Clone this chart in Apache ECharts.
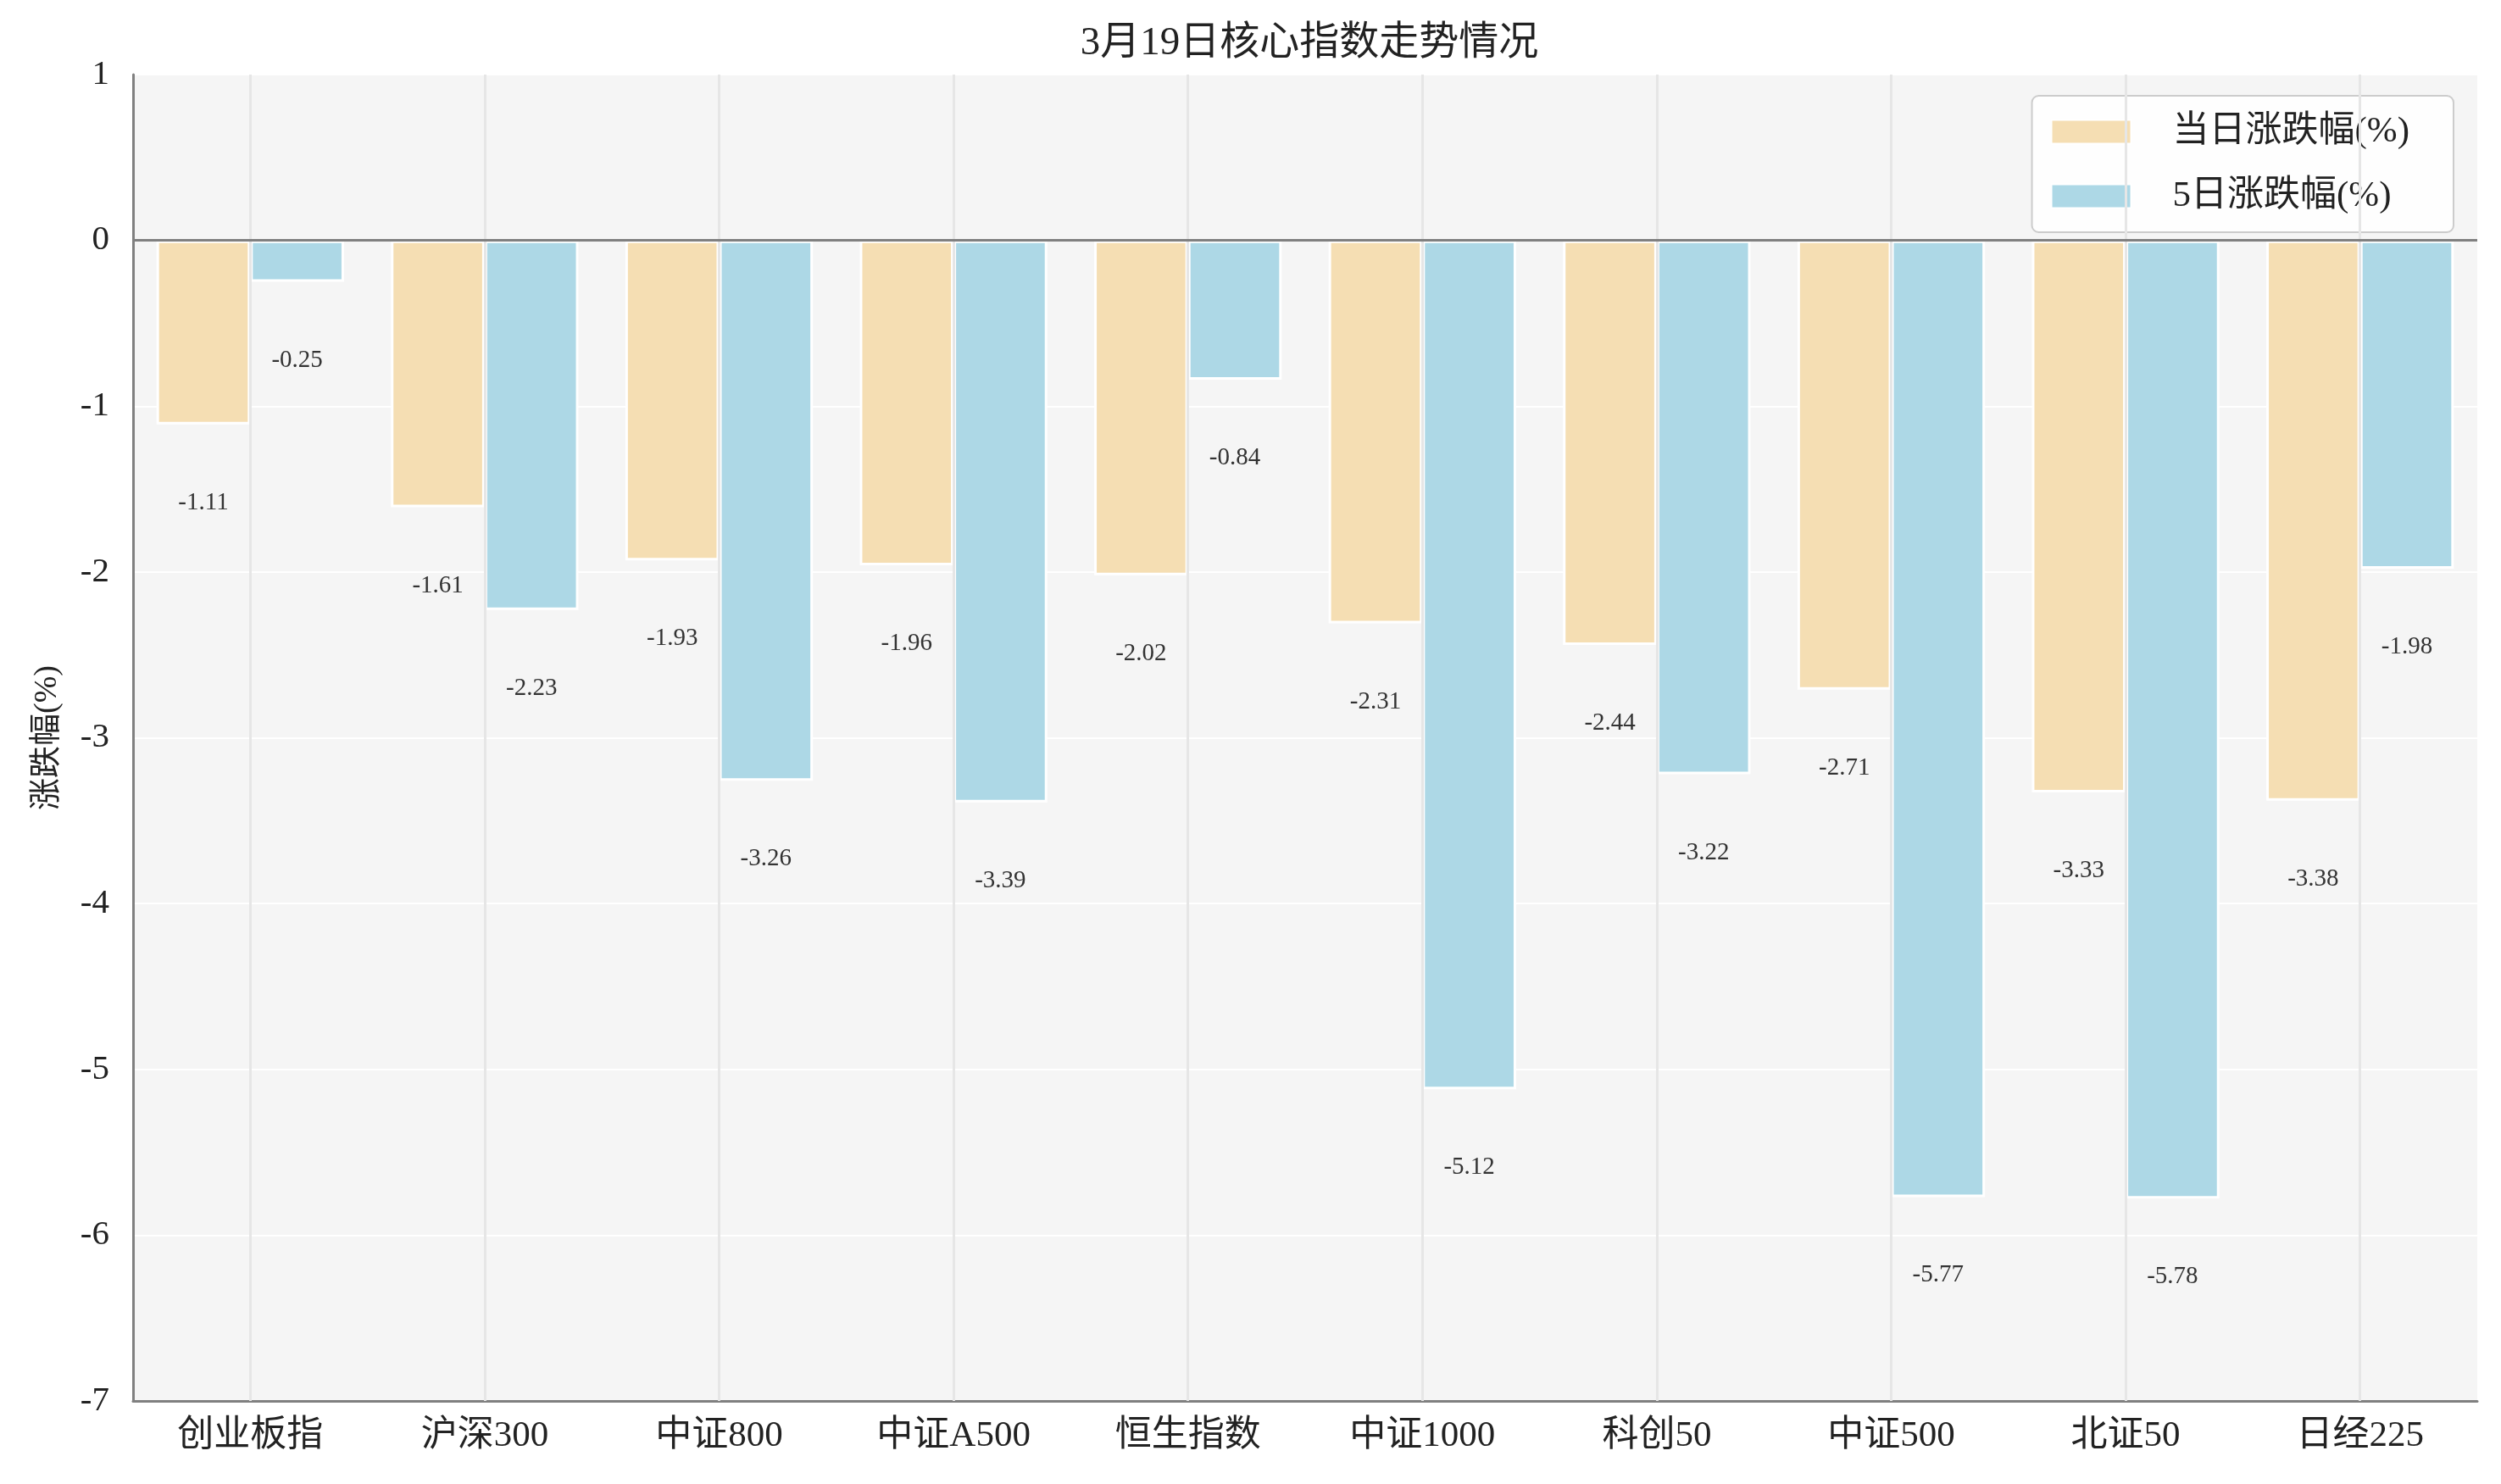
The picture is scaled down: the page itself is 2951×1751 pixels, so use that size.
<!DOCTYPE html>
<html>
<head>
<meta charset="utf-8">
<script src="https://cdn.jsdelivr.net/npm/echarts@6/dist/echarts.min.js"></script>
<style>
html,body{margin:0;padding:0;background:#fff;}
#chart{width:2951px;height:1751px;}
</style>
</head>
<body>
<div id="chart"></div>
<script>
const titleText = '3月19日核心指数走势情况';
const categories = ['创业板指','沪深300','中证800','中证A500','恒生指数','中证1000','科创50','中证500','北证50','日经225'];
const seriesNames = ['当日涨跌幅(%)','5日涨跌幅(%)'];
const dayChange = [-1.11,-1.61,-1.93,-1.96,-2.02,-2.31,-2.44,-2.71,-3.33,-3.38];
const fiveDayChange = [-0.25,-2.23,-3.26,-3.39,-0.84,-5.12,-3.22,-5.77,-5.78,-1.98];
const yTicks = [1,0,-1,-2,-3,-4,-5,-6,-7];

const FONT = "'Liberation Serif','Noto Sans CJK SC',serif";
const chart = echarts.init(document.getElementById('chart'));

const labelCfg = {
  show: true,
  position: 'bottom',
  distance: 78,
  fontSize: 29,
  fontFamily: FONT,
  color: '#333',
  formatter: p => p.value.toFixed(2)
};

chart.setOption({
  backgroundColor: '#ffffff',
  animation: false,
  title: {
    text: titleText,
    left: 1540, top: 23,
    textAlign: 'center',
    textStyle: {fontFamily: FONT, fontSize: 47, fontWeight: 'normal', color: '#222'}
  },
  legend: {
    data: seriesNames,
    orient: 'vertical',
    right: 56, top: 113,
    icon: 'rect',
    itemWidth: 94, itemHeight: 28, itemGap: 33,
    backgroundColor: 'rgba(255,255,255,0.9)',
    borderColor: '#cccccc', borderWidth: 2, borderRadius: 8,
    padding: [21, 52, 21, 22],
    textStyle: {fontFamily: FONT, fontSize: 43, color: '#222', padding: [0, 0, 0, 44]}
  },
  grid: {
    left: 157, right: 28, top: 88, bottom: 98,
    show: true, backgroundColor: '#f5f5f5', borderWidth: 0
  },
  xAxis: {
    type: 'category',
    data: categories,
    axisLine: {onZero: false, lineStyle: {color: '#808080', width: 3}},
    axisTick: {show: false},
    axisLabel: {fontFamily: FONT, fontSize: 43, color: '#222', margin: 20},
    splitLine: {show: false}
  },
  yAxis: {
    type: 'value',
    min: -7, max: 1, interval: 1,
    name: '涨跌幅(%)',
    nameLocation: 'middle',
    nameGap: 82,
    nameTextStyle: {fontFamily: FONT, fontSize: 38, color: '#222'},
    axisLine: {show: true, lineStyle: {color: '#808080', width: 3}},
    axisTick: {show: false},
    axisLabel: {fontFamily: FONT, fontSize: 41, color: '#222', margin: 28,
      formatter: v => (yTicks.indexOf(v) >= 0 ? String(v) : '')},
    splitLine: {show: true, lineStyle: {color: '#ffffff', width: 2}}
  },
  series: [
    {
      name: 'vgrid',
      type: 'line',
      data: [],
      silent: true,
      z: 1,
      markLine: {
        silent: true,
        symbol: 'none',
        label: {show: false},
        animation: false,
        data: categories.map(c => ({xAxis: c, lineStyle: {color: '#e6e6e6', width: 3, type: 'solid'}}))
      }
    },
    {
      name: seriesNames[0],
      type: 'bar',
      data: dayChange,
      barWidth: '40%',
      barGap: '0%',
      itemStyle: {color: '#F5DEB3', borderColor: '#ffffff', borderWidth: 3},
      label: labelCfg,
      z: 3
    },
    {
      name: seriesNames[1],
      type: 'bar',
      data: fiveDayChange,
      barWidth: '40%',
      barGap: '0%',
      itemStyle: {color: '#ADD8E6', borderColor: '#ffffff', borderWidth: 3},
      label: labelCfg,
      z: 3,
      markLine: {
        silent: true,
        symbol: 'none',
        label: {show: false},
        animation: false,
        data: [{yAxis: 0, lineStyle: {color: '#808080', width: 3, type: 'solid'}}]
      }
    }
  ]
});
</script>
</body>
</html>
